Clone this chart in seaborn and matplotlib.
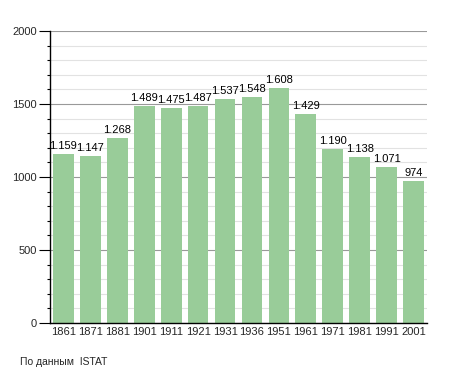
import matplotlib
matplotlib.use("Agg")
import matplotlib.pyplot as plt
import seaborn as sns
import pandas as pd
from matplotlib.ticker import MultipleLocator

years = ["1861", "1871", "1881", "1901", "1911", "1921", "1931", "1936", "1951", "1961", "1971", "1981", "1991", "2001"]
population = [1159, 1147, 1268, 1489, 1475, 1487, 1537, 1548, 1608, 1429, 1190, 1138, 1071, 974]
value_labels = ["1.159", "1.147", "1.268", "1.489", "1.475", "1.487", "1.537", "1.548", "1.608", "1.429", "1.190", "1.138", "1.071", "974"]
y_ticks = [0, 500, 1000, 1500, 2000]
source_text = "По данным  ISTAT"

sns.set_theme(style="white")
plt.rcParams['font.family'] = ['Liberation Sans', 'DejaVu Sans']

df = pd.DataFrame({"year": years, "pop": population})

fig = plt.figure(figsize=(4.55, 3.73), dpi=100)
ax = fig.add_axes([50/455, 1-323/373, 377/455, 292/373])

sns.barplot(data=df, x="year", y="pop", color="#99cc99", saturation=1, width=0.77,
            edgecolor="none", linewidth=0, ax=ax, zorder=3)

ax.set_ylim(0, 2000)
ax.set_xlim(-0.5, len(years)-0.5)
ax.yaxis.set_major_locator(MultipleLocator(500))
ax.yaxis.set_minor_locator(MultipleLocator(100))
ax.set_yticks(y_ticks)
ax.grid(which="major", axis="y", color="#999999", linewidth=0.8, zorder=0)
ax.grid(which="minor", axis="y", color="#e2e2e2", linewidth=0.8, zorder=0)
ax.set_axisbelow(True)

for s in ["top", "right"]:
    ax.spines[s].set_visible(False)
for s in ["left", "bottom"]:
    ax.spines[s].set_color("black")
    ax.spines[s].set_linewidth(1.0)
    ax.spines[s].set_zorder(4)

ax.tick_params(axis="y", which="major", length=8, width=0.8, color="black", labelsize=8, pad=1.5, left=True)
ax.tick_params(axis="y", which="minor", length=2.5, width=0.8, color="black", left=True)
ax.tick_params(axis="x", length=0, labelsize=8, pad=3)
ax.set_xlabel("")
ax.set_ylabel("")

for p, lab in zip(ax.patches, value_labels):
    ax.text(p.get_x() + p.get_width()/2, p.get_height() + 20, lab,
            ha="center", va="bottom", fontsize=8, color="black", zorder=5)

fig.text(20/455, 1-362/373, source_text, fontsize=7.5, ha="left", va="center")

fig.savefig("out.png", dpi=100)
